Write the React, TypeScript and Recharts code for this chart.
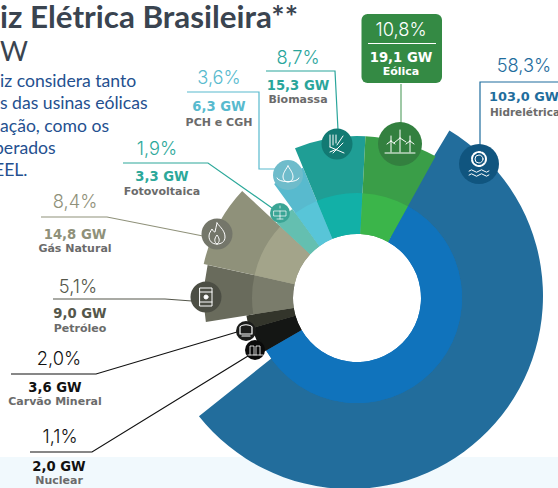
import { PieChart, Pie, Sector } from 'recharts';

// clockwise starting at the Hidrelétrica / Eólica boundary
const sources = ['Hidrelétrica', 'Nuclear', 'Carvão Mineral', 'Petróleo', 'Gás Natural', 'Fotovoltaica', 'PCH e CGH', 'Biomassa', 'Eólica'];
const percents = ['58,3%', '1,1%', '2,0%', '5,1%', '8,4%', '1,9%', '3,6%', '8,7%', '10,8%'];
const capacities = ['103,0 GW', '2,0 GW', '3,6 GW', '9,0 GW', '14,8 GW', '3,3 GW', '6,3 GW', '15,3 GW', '19,1 GW'];
// arc widths in degrees: the source graphic doesn't draw
// its slices strictly to the printed percentages
const arcDegrees = [211, 14, 7, 21.5, 30.5, 11, 13.5, 25.5, 26];

// hydro's outer ring sits on a slightly different centre in the source, so it gets its own pie
const hydroRing = [{ name: 'Hidrelétrica', arc: 200.5, fill: '#226d9c' }];

const outerRadii = [105, 109, 112, 153, 157, 110, 141, 162, 162];
const darkColors = ['#1073bc', '#141614', '#33352b', '#696b5c', '#8f917a', '#64bfb0', '#58bace', '#1f9e95', '#3a9e48'];
const lightColors = ['#1073bc', '#141614', '#33352b', '#7a7c6b', '#a3a48a', '#64bfb0', '#58c5d8', '#12b0a7', '#3bb54a'];

const outerData = sources.map((name, i) => ({ name, arc: arcDegrees[i], outer: outerRadii[i], fill: darkColors[i] }));
const innerData = sources.map((name, i) => ({ name, arc: arcDegrees[i], fill: lightColors[i] }));

const CX = 357;
const CY = 298;
const START = 61;

const LABEL = '"DejaVu Sans", sans-serif';
const THIN = 'Inter, Lato, sans-serif';
const HEAD = 'Lato, "Open Sans", sans-serif';

// eslint-disable-next-line @typescript-eslint/no-explicit-any
const SliceShape = (props: any) => {
    const outer = props.outer ?? props.payload?.outer ?? props.outerRadius;
    return <Sector {...props} outerRadius={outer} stroke="none" />;
};

type Callout = {
    i: number;
    color: string;
    line: string;
    pctX: number;
    pctY: number;
    gwX: number;
    gwY: number;
    nameY: number;
};

const callouts: Callout[] = [
    { i: 7, color: '#2aa59b', line: '266,71 335,71 338,130', pctX: 298, pctY: 64, gwX: 298, gwY: 90, nameY: 103 },
    { i: 6, color: '#58bace', line: '187,92 259,92 259,169 275,169', pctX: 219, pctY: 84, gwX: 219, gwY: 111, nameY: 126 },
    { i: 5, color: '#2ca89a', line: '123,163 208,163 272,208', pctX: 157, pctY: 155, gwX: 162, gwY: 181, nameY: 195 },
    { i: 4, color: '#8f917a', line: '41,217 107,217 203,236', pctX: 75, pctY: 208, gwX: 75, gwY: 239, nameY: 252 },
    { i: 3, color: '#55574b', line: '53,299 165,299 192,301', pctX: 78, pctY: 293, gwX: 80, gwY: 318, nameY: 332 },
    { i: 2, color: '#111111', line: '11,374 96,374 237,332', pctX: 59, pctY: 365, gwX: 55, gwY: 392, nameY: 405 },
    { i: 1, color: '#111111', line: '30,452 92,452 248,356', pctX: 60, pctY: 443, gwX: 59, gwY: 471, nameY: 484 },
];

// the reference crops this paragraph at its left edge
const bodyLines = [
    { text: 'iz considera tanto', x: 0 },
    { text: 's das usinas eólicas', x: 0 },
    { text: 'ação, como os', x: 0 },
    { text: 'perados', x: -6 },
    { text: 'EEL.', x: -6 },
];

const iconStroke = { fill: 'none', stroke: '#ffffff', strokeWidth: 1, strokeLinejoin: 'round' as const, strokeLinecap: 'round' as const };

function Badge({ x, y, r, fill, children }: { x: number; y: number; r: number; fill: string; children?: React.ReactNode }) {
    return (
        <g transform={`translate(${x},${y})`}>
            <circle r={r} fill={fill} />
            <g {...iconStroke}>{children}</g>
        </g>
    );
}

export default function App() {
    return (
        <div style={{ position: 'absolute', left: 0, top: 0, width: 558, height: 488, overflow: 'hidden', background: '#ffffff' }}>
            <div style={{ position: 'absolute', left: 0, top: 457, width: 558, height: 31, background: '#f1f9fd' }} />
            <div style={{ position: 'absolute', left: 0, top: 0 }}>
                <PieChart width={558} height={488} margin={{ top: 0, right: 0, bottom: 0, left: 0 }}>
                    <Pie
                        data={hydroRing}
                        dataKey="arc"
                        cx={350}
                        cy={296}
                        innerRadius={72}
                        outerRadius={193}
                        startAngle={59}
                        endAngle={-141.5}
                        stroke="none"
                        isAnimationActive={false}
                    />
                    <Pie
                        data={outerData}
                        dataKey="arc"
                        nameKey="name"
                        cx={CX}
                        cy={CY}
                        innerRadius={64}
                        outerRadius={162}
                        startAngle={START}
                        endAngle={START - 360}
                        stroke="none"
                        shape={SliceShape}
                        isAnimationActive={false}
                    />
                    <Pie
                        data={innerData}
                        dataKey="arc"
                        nameKey="name"
                        cx={CX}
                        cy={CY}
                        innerRadius={64}
                        outerRadius={105}
                        startAngle={START}
                        endAngle={START - 360}
                        stroke="none"
                        isAnimationActive={false}
                    />
                </PieChart>
            </div>

            {/* texts, leader lines and icon badges sit above the pies */}
            <svg width={558} height={488} style={{ position: 'absolute', left: 0, top: 0 }}>
                <text x={0} y={28} fontFamily={HEAD} fontWeight={700} fontSize={31.4} fill="#3a4450">iz Elétrica Brasileira**</text>
                <text x={0} y={61} fontFamily={HEAD} fontSize={27} fill="#3a4450">W</text>
                {bodyLines.map((t, k) => (
                    <text key={t.text} x={t.x} y={87 + k * 22.3} fontFamily={HEAD} fontSize={17.6} fill="#24508f">{t.text}</text>
                ))}

                {callouts.map((c) => (
                    <g key={c.i}>
                        <polyline points={c.line} fill="none" stroke={c.color} strokeWidth={1.2} />
                        <text x={c.pctX} y={c.pctY} textAnchor="middle" fontFamily={THIN} fontWeight={300} fontSize={18.3} fill={c.color}>{percents[c.i]}</text>
                        <text x={c.gwX} y={c.gwY} textAnchor="middle" fontFamily={LABEL} fontWeight={700} fontSize={13.2} fill={c.color}>{capacities[c.i]}</text>
                        <text x={c.gwX} y={c.nameY} textAnchor="middle" fontFamily={LABEL} fontWeight={700} fontSize={11} fill="#6b6b6b">{sources[c.i]}</text>
                    </g>
                ))}

                {/* Hidrelétrica */}
                <polyline points="480,164 480,82 558,82" fill="none" stroke="#1f6d9d" strokeWidth={1.2} />
                <text x={524} y={72} textAnchor="middle" fontFamily={THIN} fontWeight={300} fontSize={18.3} fill="#1f6d9d">{percents[0]}</text>
                <text x={489} y={101} fontFamily={LABEL} fontWeight={700} fontSize={12.9} fill="#1f6d9d">{capacities[0]}</text>
                <text x={490} y={116} fontFamily={LABEL} fontWeight={700} fontSize={10.5} fill="#6b6b6b">{sources[0]}</text>

                {/* Eólica box */}
                <line x1={401} y1={84} x2={401} y2={126} stroke="#5fa56b" strokeWidth={1.2} />
                <rect x={361.5} y={14} width={80.5} height={69} rx={6} fill="#348a44" />
                <text x={401} y={36} textAnchor="middle" fontFamily={THIN} fontWeight={300} fontSize={18.3} fill="#ffffff">{percents[8]}</text>
                <line x1={368} y1={43.5} x2={436} y2={43.5} stroke="#ffffff" strokeWidth={1} />
                <text x={401} y={62} textAnchor="middle" fontFamily={LABEL} fontWeight={700} fontSize={13.2} fill="#ffffff">{capacities[8]}</text>
                <text x={401} y={75} textAnchor="middle" fontFamily={LABEL} fontWeight={700} fontSize={11} fill="#ffffff">{sources[8]}</text>

                <Badge x={479} y={164} r={20} fill="#10557f">
                    <circle cy={-5} r={7} strokeDasharray="3 1.5" strokeWidth={2} />
                    <circle cy={-5} r={4} />
                    <path d="M-10 7q2.5-2.5 5 0t5 0t5 0t5 0M-10 11q2.5-2.5 5 0t5 0t5 0t5 0" />
                </Badge>
                <Badge x={400} y={144} r={22} fill="#33803f">
                    <path d="M-15 9H15M0 8V-6M0-6V-14M0-6L-6-1M0-6L6-2M-9 8V-3M-9-3V-8M-9-3L-13 0M-9-3L-5 0M10 8V-3M10-3V-8M10-3L6 0M10-3L14 0" />
                </Badge>
                <Badge x={337} y={144} r={15.5} fill="#127a73">
                    <path d="M-7-9V3M-4-9V1M-1-9V-1M6-8L0 1M-7 3L7 9M-4 9L6-1M-7 8L0 5" />
                </Badge>
                <Badge x={288} y={175} r={15} fill="#6fbccb">
                    <path d="M0-9C-4-3-5-1-5 2A5 5 0 0 0 5 2C5-1 4-3 0-9Z" />
                    <path d="M-11 3C-10 8 10 8 11 3" />
                </Badge>
                <Badge x={280} y={213} r={10} fill="#3aa595">
                    <path d="M-6-2H6V3H-6ZM0-2V3M-3 6H3M0 3V6M0-7V-5" strokeWidth={0.7} />
                </Badge>
                <Badge x={217} y={234} r={15.5} fill="#74766a">
                    <path d="M0-11C4-6 8-3 8 3C8 8 4 10 0 10C-5 10-8 7-8 2C-8-1-6-3-5-5C-4-3-3-2-2-2C-1-5-1-8 0-11ZM0 10C-3 8-3 5 0 1C3 5 3 8 0 10Z" />
                </Badge>
                <Badge x={206} y={297} r={15.5} fill="#4c4e44">
                    <path d="M-6-9H6V9H-6ZM-6-5H6M-6 5H6" />
                    <circle r={2} fill="#ffffff" />
                </Badge>
                <Badge x={246} y={331} r={10} fill="#1b1c1a">
                    <path d="M-6-4C-4-7 4-7 6-4V3H-6ZM-4 5H4" strokeWidth={1.2} />
                </Badge>
                <Badge x={255} y={350} r={10} fill="#0a0a0a">
                    <path d="M-7 5H8M-5 5V-4H-1V5M1 5V-4H5V5" strokeWidth={0.8} />
                </Badge>
            </svg>
        </div>
    );
}
